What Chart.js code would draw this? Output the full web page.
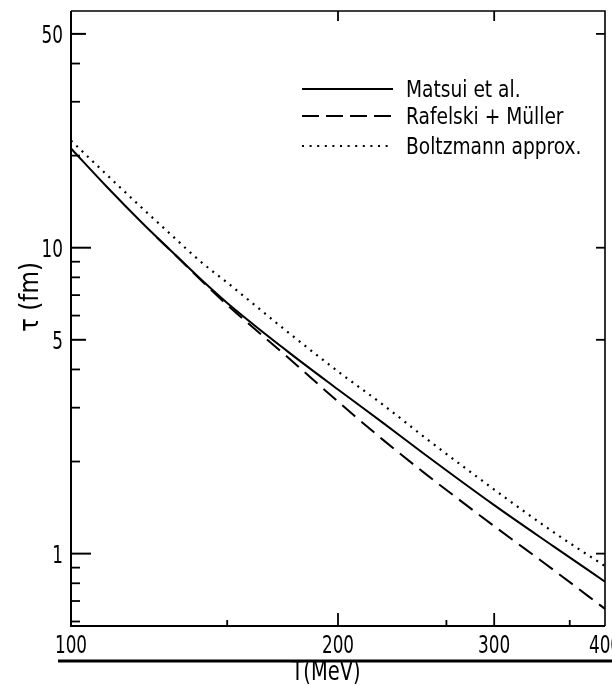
<!DOCTYPE html>
<html>
<head>
<meta charset="utf-8">
<script src="https://cdn.jsdelivr.net/npm/chart.js@4.4.1/dist/chart.umd.min.js"></script>
<style>
  html, body { margin: 0; padding: 0; background: #ffffff; }
  #wrap { width: 612px; height: 686px; position: relative; }
</style>
</head>
<body>
<div id="wrap"><canvas id="c" width="612" height="686"></canvas></div>
<script>
// ---- data ----
const temps      = [100, 110, 120, 130, 140, 150, 175, 200, 225, 250, 300, 350, 400];
const matsui     = [21.1, 15.7, 12.14, 9.70, 7.9, 6.6, 4.61, 3.44, 2.67, 2.12, 1.44, 1.056, 0.81];
const boltzmann  = [22.4, 17.2, 13.56, 10.95, 9.01, 7.69, 5.34, 3.94, 3.06, 2.41, 1.62, 1.175, 0.91];
const rafTemps   = [125, 130, 140, 150, 175, 200, 225, 250, 300, 350, 400];
const rafelski   = [10.79, 9.70, 7.85, 6.5, 4.42, 3.14, 2.35, 1.84, 1.23, 0.884, 0.66];

const seriesNames = ['Matsui et al.', 'Rafelski + Müller', 'Boltzmann approx.'];

const xTickLabels = [100, 200, 300, 400];
const xMinorTicks = [150, 265, 365];
const xTopTicks   = [200, 300];
const yTickLabels = [1, 5, 10, 50];
const yMinorTicks = [0.6, 0.7, 0.8, 0.9, 2, 3, 4, 6, 7, 8, 9, 20, 30, 40];
const yRightTicks = [1, 5, 10, 50];

const xTitle = 'T(MeV)';
const yTitle = 'τ (fm)';

const FONT = "'DejaVu Sans Condensed', 'DejaVu Sans', sans-serif";

function pts(xs, ys) { return xs.map((x, i) => ({ x: x, y: ys[i] })); }

function narrowText(ctx, str, x, y, size, sx, align, rot) {
  ctx.save();
  ctx.translate(x, y);
  if (rot) ctx.rotate(rot);
  ctx.scale(sx, 1);
  ctx.font = size + 'px ' + FONT;
  ctx.textAlign = align;
  ctx.textBaseline = 'alphabetic';
  ctx.fillStyle = '#000';
  ctx.fillText(str, 0, 0);
  ctx.restore();
}

const decoPlugin = {
  id: 'deco',
  afterDraw(chart) {
    const ctx = chart.ctx;
    const a = chart.chartArea;
    const xs = chart.scales.x, ys = chart.scales.y;
    ctx.save();
    ctx.strokeStyle = '#000';
    ctx.lineCap = 'butt';
    // frame
    ctx.lineWidth = 2;
    ctx.beginPath();
    ctx.moveTo(a.left, a.top); ctx.lineTo(a.left, a.bottom); ctx.lineTo(a.right, a.bottom);
    ctx.stroke();
    ctx.lineWidth = 1.6;
    ctx.beginPath();
    ctx.moveTo(a.right, a.bottom); ctx.lineTo(a.right, a.top); ctx.lineTo(a.left, a.top);
    ctx.stroke();
    // inward ticks, left
    ctx.lineWidth = 2;
    yTickLabels.forEach(v => {
      const y = ys.getPixelForValue(v);
      const len = (v === 5 || v === 50) ? 15 : 20;
      ctx.beginPath(); ctx.moveTo(a.left, y); ctx.lineTo(a.left + len, y); ctx.stroke();
    });
    ctx.lineWidth = 1.8;
    yMinorTicks.forEach(v => {
      const y = ys.getPixelForValue(v);
      ctx.beginPath(); ctx.moveTo(a.left, y); ctx.lineTo(a.left + 9, y); ctx.stroke();
    });
    yRightTicks.forEach(v => {
      const y = ys.getPixelForValue(v);
      ctx.beginPath(); ctx.moveTo(a.right, y); ctx.lineTo(a.right - 9, y); ctx.stroke();
    });
    xTickLabels.forEach(v => {
      if (v === 100 || v === 400) return;
      const x = xs.getPixelForValue(v);
      ctx.beginPath(); ctx.moveTo(x, a.bottom); ctx.lineTo(x, a.bottom - 13); ctx.stroke();
    });
    xMinorTicks.forEach(v => {
      const x = xs.getPixelForValue(v);
      ctx.beginPath(); ctx.moveTo(x, a.bottom); ctx.lineTo(x, a.bottom - 6); ctx.stroke();
    });
    xTopTicks.forEach(v => {
      const x = xs.getPixelForValue(v);
      ctx.beginPath(); ctx.moveTo(x, a.top); ctx.lineTo(x, a.top + 10); ctx.stroke();
    });

    // tick labels (positions from the library's scales)
    xs.ticks.forEach(t => {
      narrowText(ctx, String(t.value), xs.getPixelForValue(t.value), 653, 24, 0.78, 'center');
    });
    ys.ticks.forEach(t => {
      narrowText(ctx, String(t.value), a.left - 8, ys.getPixelForValue(t.value) + 9, 24, 0.78, 'right');
    });

    // legend
    const legendY = [89, 116, 146];
    chart.data.datasets.forEach((ds, i) => {
      const y = legendY[i];
      ctx.lineWidth = ds.borderWidth;
      ctx.setLineDash(i === 1 ? [17, 7] : (i === 2 ? [2, 5.6] : []));
      ctx.beginPath(); ctx.moveTo(302, y); ctx.lineTo(393, y); ctx.stroke();
      ctx.setLineDash([]);
      narrowText(ctx, ds.label, 406, y + 8, 23, 0.9, 'left');
    });

    // axis titles
    narrowText(ctx, xTitle, 326, 680, 27, 0.8, 'center');
    narrowText(ctx, yTitle, 38, 297, 27, 0.95, 'center', -Math.PI / 2);

    // thick rule under the axis labels
    ctx.lineWidth = 3;
    ctx.beginPath(); ctx.moveTo(58, 661); ctx.lineTo(612, 661); ctx.stroke();
    ctx.restore();
  }
};

new Chart(document.getElementById('c'), {
  type: 'scatter',
  data: {
    datasets: [
      { label: seriesNames[0], data: pts(temps, matsui), showLine: true, borderColor: '#000', borderWidth: 2,
        pointRadius: 0, cubicInterpolationMode: 'monotone' },
      { label: seriesNames[1], data: pts(rafTemps, rafelski), showLine: true, borderColor: '#000', borderWidth: 2,
        borderDash: [17, 8], pointRadius: 0, cubicInterpolationMode: 'monotone' },
      { label: seriesNames[2], data: pts(temps, boltzmann), showLine: true, borderColor: '#000', borderWidth: 2.2,
        borderDash: [2, 5.4], pointRadius: 0, cubicInterpolationMode: 'monotone' }
    ]
  },
  options: {
    responsive: false,
    animation: false,
    devicePixelRatio: 1,
    layout: { padding: { top: 11, right: 7, left: 0, bottom: 0 } },
    plugins: { legend: { display: false }, tooltip: { enabled: false } },
    scales: {
      x: {
        type: 'logarithmic', position: 'bottom', min: 100, max: 400,
        grid: { display: false, drawTicks: false },
        border: { display: false },
        afterBuildTicks: s => { s.ticks = xTickLabels.map(v => ({ value: v })); },
        afterFit: s => { s.height = 60; s.paddingLeft = 0; s.paddingRight = 0; },
        ticks: { display: false, autoSkip: false, maxRotation: 0 }
      },
      y: {
        type: 'logarithmic', position: 'left', min: 0.58, max: 59.4,
        grid: { display: false, drawTicks: false },
        border: { display: false },
        afterBuildTicks: s => { s.ticks = yTickLabels.map(v => ({ value: v })); },
        afterFit: s => { s.width = 71; s.paddingTop = 0; s.paddingBottom = 0; },
        ticks: { display: false, autoSkip: false }
      }
    }
  },
  plugins: [decoPlugin]
});
</script>
</body>
</html>
